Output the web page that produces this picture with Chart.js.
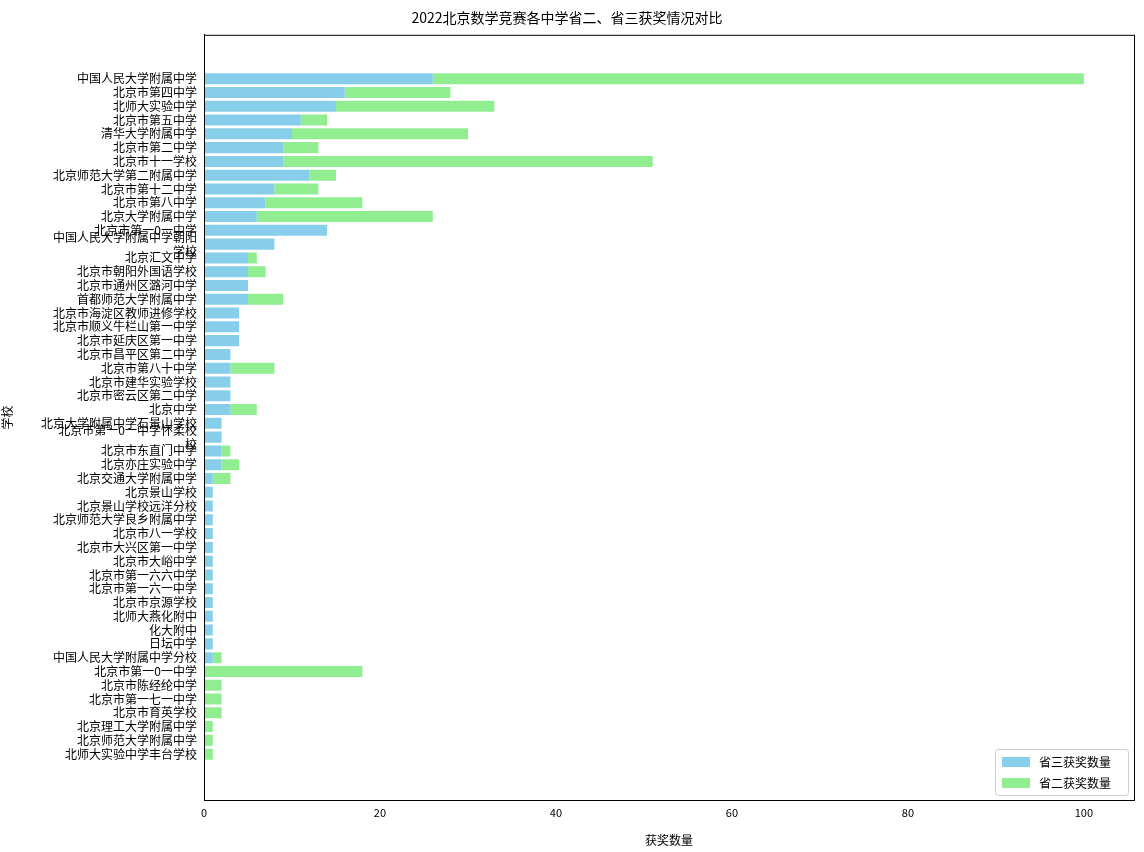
<!DOCTYPE html>
<html>
<head>
<meta charset="utf-8">
<script src="https://cdn.jsdelivr.net/npm/chart.js@4"></script>
<style>body{margin:0;background:#fff}</style>
</head>
<body>
<canvas id="c" width="1144" height="852"></canvas>
<script>
// 学校名称 (从上到下)
const schools = [
  '中国人民大学附属中学', '北京市第四中学', '北师大实验中学', '北京市第五中学', '清华大学附属中学',
  '北京市第二中学', '北京市十一学校', '北京师范大学第二附属中学', '北京市第十二中学', '北京市第八中学',
  '北京大学附属中学', '北京市第一0一中学', ['中国人民大学附属中学朝阳', '学校'], '北京汇文中学', '北京市朝阳外国语学校',
  '北京市通州区潞河中学', '首都师范大学附属中学', '北京市海淀区教师进修学校', '北京市顺义牛栏山第一中学', '北京市延庆区第一中学',
  '北京市昌平区第二中学', '北京市第八十中学', '北京市建华实验学校', '北京市密云区第二中学', '北京中学',
  '北京大学附属中学石景山学校', ['北京市第一0一中学怀柔校', '校'], '北京市东直门中学', '北京亦庄实验中学', '北京交通大学附属中学',
  '北京景山学校', '北京景山学校远洋分校', '北京师范大学良乡附属中学', '北京市八一学校', '北京市大兴区第一中学',
  '北京市大峪中学', '北京市第一六六中学', '北京市第一六一中学', '北京市京源学校', '北师大燕化附中',
  '化大附中', '日坛中学', '中国人民大学附属中学分校', '北京市第一0一中学', '北京市陈经纶中学',
  '北京市第一七一中学', '北京市育英学校', '北京理工大学附属中学', '北京师范大学附属中学', '北师大实验中学丰台学校'
];
const sheng3 = [26, 16, 15, 11, 10, 9, 9, 12, 8, 7, 6, 14, 8, 5, 5, 5, 5, 4, 4, 4,
  3, 3, 3, 3, 3, 2, 2, 2, 2, 1, 1, 1, 1, 1, 1, 1, 1, 1, 1, 1, 1, 1, 1, 0, 0, 0, 0, 0, 0, 0];
const sheng2 = [74, 12, 18, 3, 20, 4, 42, 3, 5, 11, 20, 0, 0, 1, 2, 0, 4, 0, 0, 0,
  0, 5, 0, 0, 3, 0, 0, 1, 2, 2, 0, 0, 0, 0, 0, 0, 0, 0, 0, 0, 0, 0, 1, 18, 2, 2, 2, 1, 1, 1];

const FONT = '"Noto Sans CJK SC", sans-serif';

// 图例画在右下角 (matplotlib 风格)
const legendBox = {
  id: 'legendBox',
  afterDraw(chart) {
    const ctx = chart.ctx, a = chart.chartArea;
    const w = 133, h = 46, x = a.right - w - 6, y = a.bottom - h - 5;
    ctx.save();
    ctx.fillStyle = 'rgba(255,255,255,0.8)';
    ctx.strokeStyle = '#ccc';
    ctx.lineWidth = 1;
    ctx.beginPath();
    ctx.roundRect(x + 0.5, y + 0.5, w, h, 3);
    ctx.fill(); ctx.stroke();
    const items = [['省三获奖数量', '#87ceeb'], ['省二获奖数量', '#90ee90']];
    ctx.font = '12px ' + FONT;
    ctx.textBaseline = 'middle';
    items.forEach((it, i) => {
      const yy = y + 13 + i * 21;
      ctx.fillStyle = it[1];
      ctx.fillRect(x + 7, yy - 5, 28, 10);
      ctx.fillStyle = '#000';
      ctx.fillText(it[0], x + 44, yy);
    });
    ctx.restore();
  }
};

// 外框
const frame = {
  id: 'frame',
  afterDraw(chart) {
    const ctx = chart.ctx, a = chart.chartArea;
    ctx.save();
    ctx.strokeStyle = '#000';
    ctx.lineWidth = 1;
    ctx.strokeRect(a.left + 0.5, a.top + 0.5, a.right - a.left, a.bottom - a.top);
    ctx.restore();
  }
};

new Chart(document.getElementById('c'), {
  type: 'bar',
  data: {
    datasets: [
      { label: '省三获奖数量', data: sheng3.map((v, i) => ({ x: v, y: i })), backgroundColor: '#87ceeb' },
      { label: '省二获奖数量', data: sheng2.map((v, i) => ({ x: v, y: i })), backgroundColor: '#90ee90' }
    ]
  },
  options: {
    indexAxis: 'y',
    responsive: false,
    animation: false,
    barPercentage: 0.8,
    categoryPercentage: 1,
    layout: { padding: { left: 0, right: 10, top: 0, bottom: 0 } },
    plugins: {
      legend: { display: false },
      tooltip: { enabled: false },
      title: {
        display: true,
        text: '2022北京数学竞赛各中学省二、省三获奖情况对比',
        color: '#000',
        font: { family: FONT, size: 14, weight: 'normal' },
        padding: { top: 9, bottom: 9 }
      }
    },
    scales: {
      x: {
        stacked: true,
        min: 0, max: 105.7,
        afterBuildTicks: axis => { axis.ticks = [0, 20, 40, 60, 80, 100].map(v => ({ value: v })); },
        grid: { display: false, drawTicks: true, tickLength: 4, tickColor: '#000' },
        border: { color: '#000' },
        ticks: { color: '#000', font: { family: FONT, size: 11 }, padding: 2 },
        title: { display: true, text: '获奖数量', color: '#000', font: { family: FONT, size: 12 }, padding: { top: 6 } },
        afterFit: s => { s.height = 52; }
      },
      y: {
        type: 'linear',
        stacked: true,
        reverse: true,
        min: -2.63, max: 51.77,
        afterBuildTicks: axis => { axis.ticks = schools.map((_, i) => ({ value: i })); },
        grid: { display: false, drawTicks: true, tickLength: 4, tickColor: '#000' },
        border: { color: '#000' },
        ticks: {
          autoSkip: false,
          color: '#000',
          font: { family: FONT, size: 12, lineHeight: 1.15 },
          padding: 3,
          callback: v => schools[v]
        },
        title: { display: true, text: '学校', color: '#000', font: { family: FONT, size: 12 }, padding: 0 },
        afterFit: s => { s.width = 204; }
      }
    }
  },
  plugins: [legendBox, frame]
});
</script>
</body>
</html>
